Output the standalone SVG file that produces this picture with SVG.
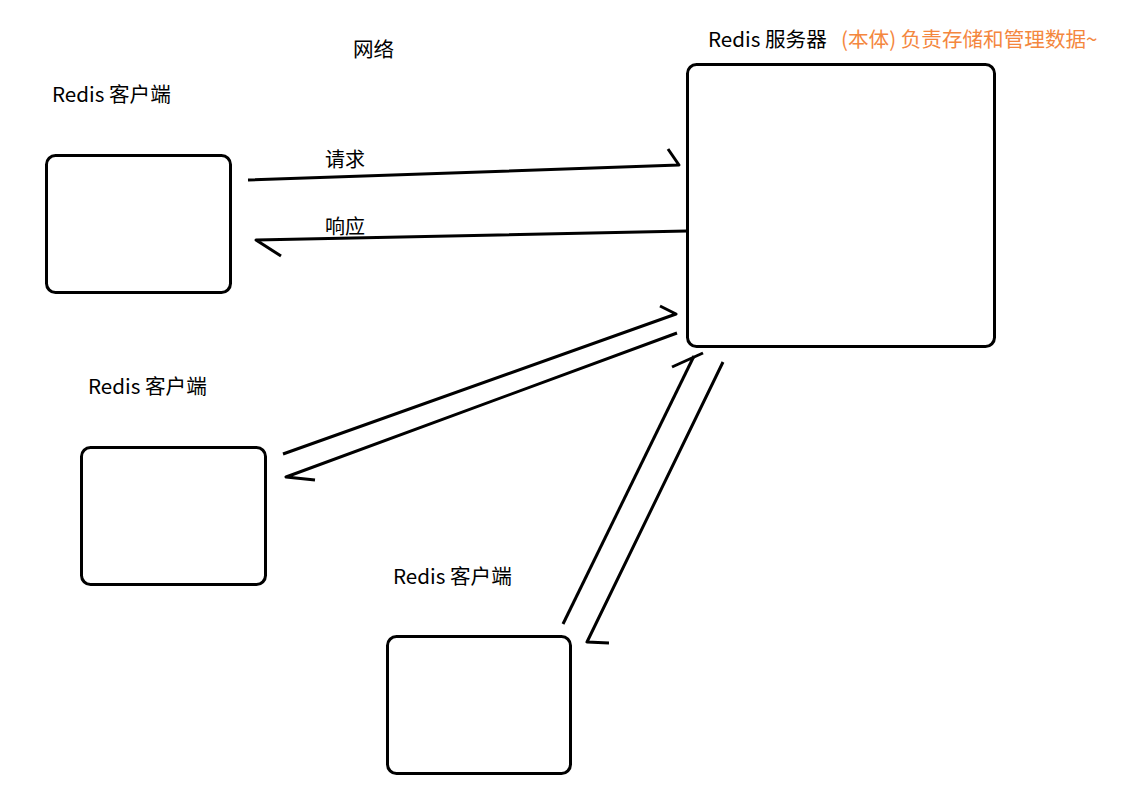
<svg xmlns="http://www.w3.org/2000/svg" width="1142" height="789" viewBox="0 0 1142 789">
<style>
.box{fill:#fff;stroke:#000;stroke-width:3}
.ln{fill:none;stroke:#000;stroke-width:3;stroke-linecap:butt;stroke-linejoin:round}
.t{font-family:"Noto Sans CJK SC","Microsoft YaHei",sans-serif;font-size:20.6px;fill:#000}
.s{font-size:20px}
.o{fill:#F4873E}
</style>
<rect width="1142" height="789" fill="#fff"/>
<text class="t" x="353" y="57">网络</text>
<g id="server">
<rect class="box" x="687.5" y="64.5" width="307" height="282" rx="9"/>
<text class="t" x="708" y="47">Redis 服务器</text>
<text class="t o" x="841" y="47">(本体) 负责存储和管理数据~</text>
</g>
<g id="client1">
<rect class="box" x="46.5" y="155.5" width="184" height="137" rx="9"/>
<text class="t" x="52" y="102">Redis 客户端</text>
</g>
<g id="client2">
<rect class="box" x="81.5" y="447.5" width="184" height="137" rx="9"/>
<text class="t" x="88" y="394">Redis 客户端</text>
</g>
<g id="client3">
<rect class="box" x="387.5" y="636.5" width="183" height="137" rx="9"/>
<text class="t" x="393" y="584">Redis 客户端</text>
</g>
<g id="connectors">
<polyline class="ln" points="248,180 679,165 668,149"/>
<text class="t s" x="325" y="167">请求</text>
<polyline class="ln" points="687,231 256,240 281,256"/>
<text class="t s" x="325" y="234">响应</text>
<polyline class="ln" points="283,454 676,314 660,306"/>
<polyline class="ln" points="677,333 286,477 315,480"/>
<line class="ln" x1="563" y1="624" x2="694" y2="356"/>
<line class="ln" x1="672" y1="367" x2="703" y2="353"/>
<polyline class="ln" points="723,362 587,642 609,643"/>
</g>
</svg>
